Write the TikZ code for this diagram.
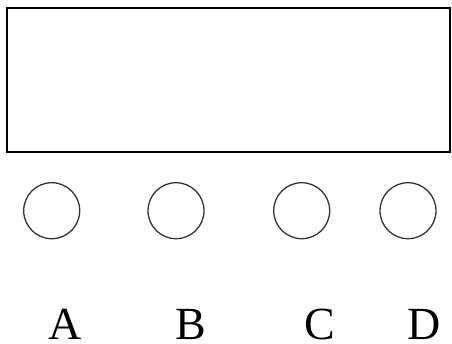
\documentclass[tikz,border=0pt]{standalone}
\usepackage{fontspec}
\setmainfont{Liberation Serif}
\begin{document}
\begin{tikzpicture}[x=1pt, y=-1pt,
    pad/.style={draw=black!80, circle, line width=1.3pt, minimum size=56pt, inner sep=0pt},
    lab/.style={font=\fontsize{46}{50}\selectfont, anchor=base, inner sep=0pt}]
  \useasboundingbox (0,0) rectangle (452,344);
  \node[draw, line width=2pt, minimum width=443pt, minimum height=144pt, inner sep=0pt] (panel) at (228.3, 80.5) {};
  \node[pad] (cA) at (51.7, 210.7) {};
  \node[pad] (cB) at (176, 210.7) {};
  \node[pad] (cC) at (301.7, 210.7) {};
  \node[pad] (cD) at (408, 210.7) {};
  \node[lab] (lA) at (65, 339.5) {A};
  \node[lab] (lB) at (191, 339.5) {B};
  \node[lab] (lC) at (320, 339.5) {C};
  \node[lab] (lD) at (424, 339.5) {D};
\end{tikzpicture}
\end{document}
